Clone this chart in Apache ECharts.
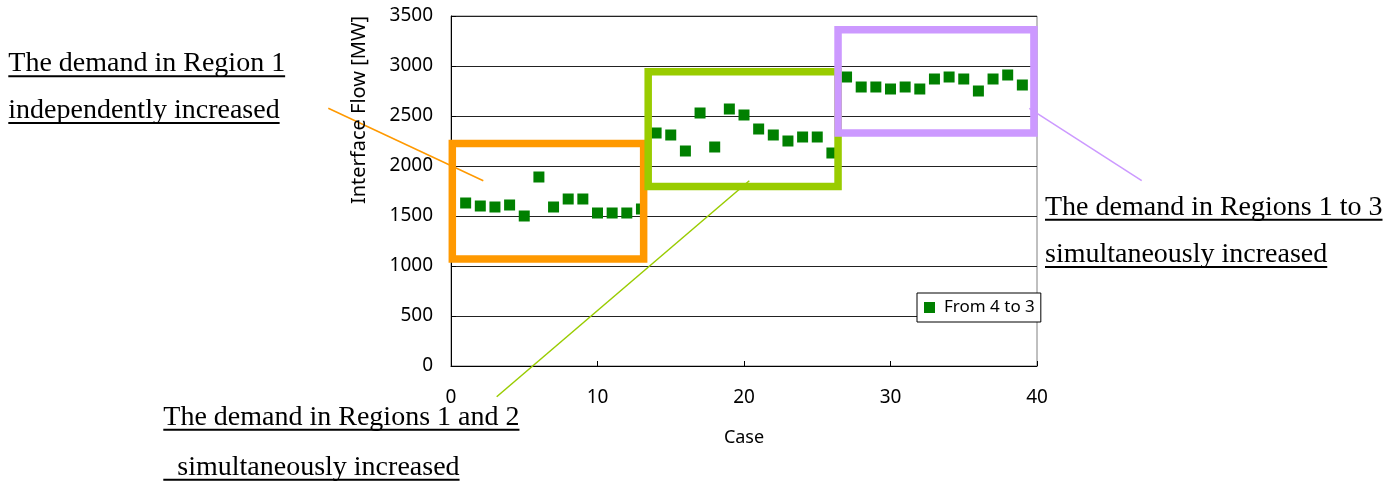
<!DOCTYPE html>
<html>
<head>
<meta charset="utf-8">
<script src="https://cdn.jsdelivr.net/npm/echarts@6/dist/echarts.min.js"></script>
<style>
  html, body { margin: 0; padding: 0; background: #fff; }
  #chart { width: 1398px; height: 486px; }
</style>
</head>
<body>
<div id="chart"></div>
<script>
// Case numbers along the x axis
const cases = [1, 2, 3, 4, 5, 6, 7, 8, 9, 10, 11, 12, 13,
               14, 15, 16, 17, 18, 19, 20, 21, 22, 23, 24, 25, 26,
               27, 28, 29, 30, 31, 32, 33, 34, 35, 36, 37, 38, 39];

// Interface flow from area 4 to area 3 [MW], one value per case
const flowFrom4To3 = [1630, 1600, 1590, 1610, 1500, 1890, 1590, 1670, 1670, 1530, 1530, 1530, 1570,
                      2330, 2310, 2150, 2530, 2190, 2570, 2510, 2370, 2310, 2250, 2290, 2290, 2130,
                      2890, 2790, 2790, 2770, 2790, 2770, 2870, 2890, 2870, 2750, 2870, 2910, 2810];

const seriesName = 'From 4 to 3';
const xAxisTitle = 'Case';
const yAxisTitle = 'Interface Flow [MW]';

// Scenario groups: case range and flow range that each frame encloses
const groupCaseFrom = [0.09, 13.46, 26.42];
const groupCaseTo   = [13.15, 26.42, 39.79];
const groupFlowLow  = [1071, 1796, 2330];
const groupFlowHigh = [2226, 2942, 3362];
const groupColors   = ['#FF9900', '#99CC00', '#CC99FF'];

// Scenario descriptions, in the same order as the groups
const noteLines = [
  ['The demand in Region 1', 'independently increased'],
  ['The demand in Regions 1 and 2', '  simultaneously increased'],
  ['The demand in Regions 1 to 3', 'simultaneously increased']
];

const sansFont = '"Noto Sans", "Liberation Sans", sans-serif';
const serifFont = '"Liberation Serif", "Times New Roman", serif';

const chart = echarts.init(document.getElementById('chart'), null, { renderer: 'canvas' });

const option = {
  animation: false,
  backgroundColor: '#ffffff',
  grid: {
    left: 451, top: 16, right: 361, bottom: 120,
    show: true, borderColor: '#808080', borderWidth: 1,
    containLabel: false
  },
  legend: {
    data: [seriesName],
    left: 917, top: 293,
    orient: 'vertical',
    backgroundColor: '#ffffff',
    borderColor: '#000000', borderWidth: 1, borderRadius: 0,
    padding: [6, 6, 6, 7],
    itemWidth: 11, itemHeight: 11,
    icon: 'rect',
    itemStyle: { opacity: 1 },
    textStyle: { fontFamily: sansFont, fontSize: 17, color: '#000', padding: [0, 0, 0, 4] }
  },
  xAxis: {
    type: 'value', min: 0, max: 40, interval: 10,
    name: xAxisTitle, nameLocation: 'middle', nameGap: 63,
    nameTextStyle: { fontFamily: sansFont, fontSize: 18, color: '#000' },
    axisLine: { onZero: false, lineStyle: { color: '#000', width: 1 } },
    axisTick: { inside: true, length: 5, lineStyle: { color: '#000' } },
    axisLabel: { margin: 22, fontFamily: sansFont, fontSize: 19, color: '#000' },
    splitLine: { show: false }
  },
  yAxis: {
    type: 'value', min: 0, max: 3500, interval: 500,
    axisLine: { show: true, lineStyle: { color: '#000', width: 1 } },
    axisTick: { show: true, inside: true, length: 5, lineStyle: { color: '#000' } },
    axisLabel: {
      margin: 18, fontFamily: sansFont, fontSize: 19, color: '#000',
      formatter: (v) => String(v)
    },
    splitLine: { show: true, lineStyle: { color: '#222', width: 1 } }
  },
  series: [{
    name: seriesName,
    type: 'scatter',
    symbol: 'rect',
    symbolSize: 11,
    itemStyle: { color: '#008000', opacity: 1 },
    data: cases.map((c, i) => [c, flowFrom4To3[i]]),
    z: 3
  }]
};

chart.setOption(option);

// Width of a text string in a given font, for the underlines
const measureCtx = document.createElement('canvas').getContext('2d');
function textWidth(text, font) {
  measureCtx.font = font;
  return measureCtx.measureText(text).width;
}

const graphics = [];

// Frames around each scenario group, placed through the chart's own scales
for (let g = 0; g < groupColors.length; g++) {
  const tl = chart.convertToPixel({ gridIndex: 0 }, [groupCaseFrom[g], groupFlowHigh[g]]);
  const br = chart.convertToPixel({ gridIndex: 0 }, [groupCaseTo[g], groupFlowLow[g]]);
  graphics.push({
    type: 'rect',
    shape: { x: tl[0], y: tl[1], width: br[0] - tl[0], height: br[1] - tl[1] },
    style: { fill: 'none', stroke: groupColors[g], lineWidth: 7.5 },
    z: 20 + g
  });
}

// Leader lines from each description to its frame
const leaders = [
  [328.3, 108.3, 483.3, 180.7],
  [496.7, 396.7, 749.3, 180.7],
  [1029.3, 108.3, 1141.7, 180.7]
];
leaders.forEach((l, i) => {
  graphics.push({
    type: 'line',
    shape: { x1: l[0], y1: l[1], x2: l[2], y2: l[3] },
    style: { stroke: groupColors[i], lineWidth: 1.5 },
    z: 30
  });
});

// Underlined scenario descriptions
const noteX = [8.3, 163.3, 1045];
const noteBaselines = [[73.3, 120], [426.7, 476.7], [216.7, 264]];
const noteFontSize = 28;
const noteFont = noteFontSize + 'px ' + serifFont;
noteLines.forEach((lines, n) => {
  lines.forEach((txt, k) => {
    const base = noteBaselines[n][k];
    graphics.push({
      type: 'text',
      x: noteX[n], y: base - 0.3375 * noteFontSize,
      style: {
        text: txt, font: noteFont, fill: '#000',
        textAlign: 'left', textVerticalAlign: 'middle'
      },
      z: 40
    });
    graphics.push({
      type: 'line',
      shape: { x1: noteX[n], y1: base + 3, x2: noteX[n] + textWidth(txt, noteFont), y2: base + 3 },
      style: { stroke: '#000', lineWidth: 2 },
      z: 40
    });
  });
});

// Vertical axis title
graphics.push({
  type: 'text',
  x: 359, y: 110,
  rotation: Math.PI / 2,
  style: {
    text: yAxisTitle, font: '20px ' + sansFont, fill: '#000',
    textAlign: 'center', textVerticalAlign: 'middle'
  },
  z: 40
});

chart.setOption({ graphic: graphics });
</script>
</body>
</html>
